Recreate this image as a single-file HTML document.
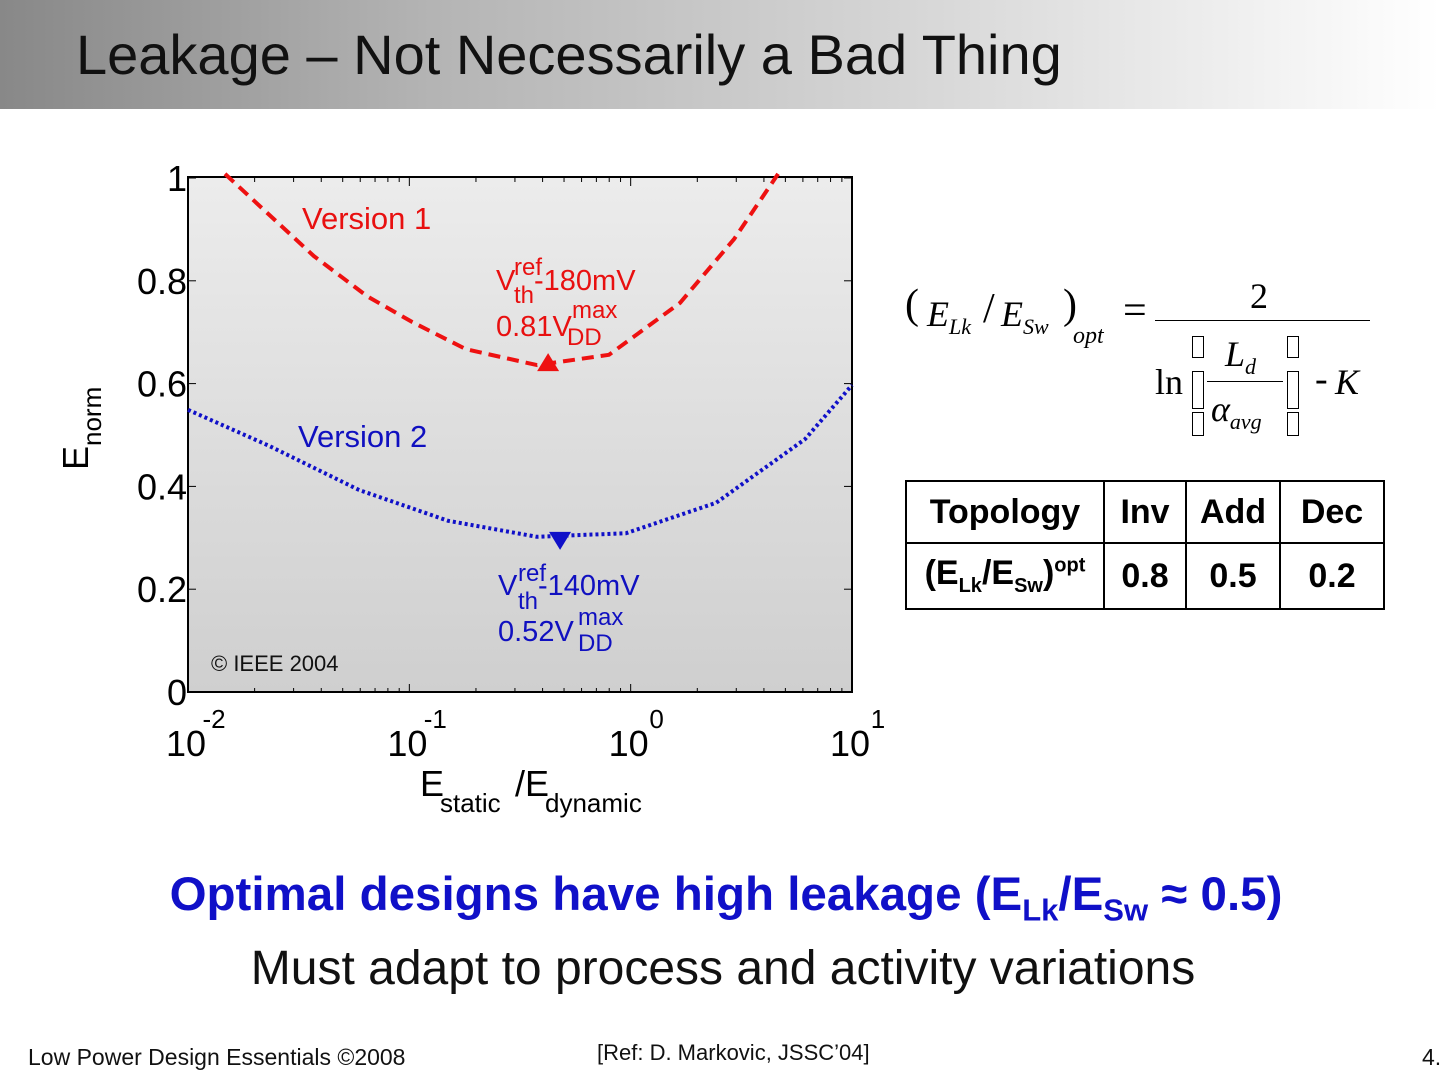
<!DOCTYPE html>
<html><head><meta charset="utf-8">
<style>
html,body{margin:0;padding:0;width:1440px;height:1080px;background:#fff;overflow:hidden;font-family:"Liberation Sans",sans-serif;}
#hdr{position:absolute;left:0;top:0;width:1440px;height:109px;background:linear-gradient(to right,#888 0%,#b4b4b4 30%,#d8d8d8 65%,#fff 100%);}
#title{position:absolute;left:76px;top:22px;font-size:56px;color:#111;white-space:nowrap;}
.abs{position:absolute;white-space:nowrap;}
table{border-collapse:collapse;font-family:"Liberation Sans Narrow","Liberation Sans",sans-serif;font-weight:bold;font-size:34px;}
td{border:2px solid #000;text-align:center;padding:0 10px;}
.box{position:absolute;width:10px;border:1.5px solid #000;}
</style></head><body>
<div id="hdr"></div>
<div id="title">Leakage – Not Necessarily a Bad Thing</div>

<svg id="chart" width="1440" height="1080" style="position:absolute;left:0;top:0" font-family="Liberation Sans, sans-serif">
<defs><linearGradient id="bg" x1="0" y1="0" x2="0" y2="1"><stop offset="0" stop-color="#ececec"/><stop offset="1" stop-color="#cfcfcf"/></linearGradient></defs>
<rect x="188" y="177" width="664" height="515" fill="url(#bg)" stroke="#000" stroke-width="2"/>
<g id="axes"></g>
<g id="series"></g>
<text x="302" y="229" font-size="31" fill="#e81010">Version 1</text>
<text x="298" y="447" font-size="31" fill="#1010c0">Version 2</text>
<g fill="#e81010" font-size="29">
<text x="496" y="290">V</text><text x="514" y="275" font-size="24">ref</text><text x="514" y="303" font-size="24">th</text><text x="534" y="290">-180mV</text>
<text x="496" y="336">0.81V</text><text x="572" y="318" font-size="24">max</text><text x="567" y="345" font-size="24">DD</text>
</g>
<g fill="#1010c0" font-size="29">
<text x="498" y="595">V</text><text x="518" y="581" font-size="24">ref</text><text x="518" y="609" font-size="24">th</text><text x="538" y="595">-140mV</text>
<text x="498" y="641">0.52V</text><text x="578" y="625" font-size="24">max</text><text x="578" y="651" font-size="24">DD</text>
</g>
<text x="211" y="671" font-size="22" fill="#111">© IEEE 2004</text>
<g transform="translate(88,470) rotate(-90)" font-size="36"><text x="0" y="0">E</text><text x="24" y="13" font-size="26">norm</text></g>
<g font-size="36"><text x="420" y="796">E</text><text x="440" y="812" font-size="26">static</text><text x="515" y="796">/E</text><text x="545" y="812" font-size="26">dynamic</text></g>
</svg>

<div class="abs" style="left:905px;top:275px;width:470px;height:170px;font-family:'Liberation Serif',serif;">
<span class="abs" style="left:0;top:6px;font-size:42px">(</span>
<span class="abs" style="left:22px;top:18px;font-size:36px;font-style:italic">E<sub style="font-size:22px">Lk</sub></span>
<span class="abs" style="left:78px;top:10px;font-size:42px">/</span>
<span class="abs" style="left:96px;top:18px;font-size:36px;font-style:italic">E<sub style="font-size:22px">Sw</sub></span>
<span class="abs" style="left:158px;top:6px;font-size:42px">)</span>
<span class="abs" style="left:168px;top:48px;font-size:24px;font-style:italic">opt</span>
<span class="abs" style="left:218px;top:12px;font-size:42px">=</span>
<span class="abs" style="left:345px;top:0;font-size:36px">2</span>
<div class="abs" style="left:250px;top:45px;width:215px;height:1px;background:#000"></div>
<span class="abs" style="left:250px;top:86px;font-size:36px">ln</span>
<span class="abs" style="left:320px;top:58px;font-size:36px;font-style:italic">L<sub style="font-size:22px">d</sub></span>
<div class="abs" style="left:302px;top:106px;width:76px;height:1px;background:#000"></div>
<span class="abs" style="left:306px;top:113px;font-size:36px;font-style:italic">α<sub style="font-size:22px">avg</sub></span>
<span class="abs" style="left:410px;top:82px;font-size:38px">-</span>
<span class="abs" style="left:430px;top:86px;font-size:36px;font-style:italic">K</span>
<div class="box" style="left:287px;top:61px;height:20px"></div>
<div class="box" style="left:287px;top:96px;height:36px"></div>
<div class="box" style="left:287px;top:137px;height:22px"></div>
<div class="box" style="left:382px;top:61px;height:20px"></div>
<div class="box" style="left:382px;top:96px;height:36px"></div>
<div class="box" style="left:382px;top:137px;height:22px"></div>
</div>

<table class="abs" style="left:905px;top:480px;">
<tr style="height:62px"><td style="width:176px">Topology</td><td style="width:60px">Inv</td><td style="width:72px">Add</td><td style="width:82px">Dec</td></tr>
<tr style="height:66px"><td>(E<sub style="font-size:20px">Lk</sub>/E<sub style="font-size:20px">Sw</sub>)<sup style="font-size:20px">opt</sup></td><td>0.8</td><td>0.5</td><td>0.2</td></tr>
</table>

<div class="abs" style="left:0;width:1452px;text-align:center;top:867px;font-size:47.5px;font-weight:bold;color:#1010c8">Optimal designs have high leakage (E<sub style="font-size:31px">Lk</sub>/E<sub style="font-size:31px">Sw</sub> ≈ 0.5)</div>
<div class="abs" style="left:0;width:1446px;text-align:center;top:941px;font-size:48px;color:#111">Must adapt to process and activity variations</div>
<div class="abs" style="left:597px;top:1040px;font-size:22px;color:#111">[Ref: D. Markovic, JSSC’04]</div>
<div class="abs" style="left:28px;top:1044px;font-size:23px;font-family:'Liberation Sans Narrow','Liberation Sans',sans-serif;color:#111">Low Power Design Essentials ©2008</div>
<div class="abs" style="left:1422px;top:1044px;font-size:23px;font-family:'Liberation Sans Narrow','Liberation Sans',sans-serif;color:#111">4.</div>

<script>
const yTicks=[0,0.2,0.4,0.6,0.8,1];
const yTickLabels=["0","0.2","0.4","0.6","0.8","1"];
const xDecades=[-2,-1,0,1];
const v1LogX=[-1.833,-1.431,-1.191,-0.988,-0.744,-0.423,-0.098,0.223,0.467,0.666];
const v1Y=[1.008,0.848,0.770,0.720,0.667,0.636,0.656,0.757,0.881,1.008];
const v2LogX=[-2,-1.634,-1.227,-0.825,-0.423,-0.021,0.386,0.788,1.0];
const v2Y=[0.549,0.479,0.393,0.333,0.302,0.309,0.368,0.492,0.597];
const v1Opt=[-0.373,0.636];
const v2Opt=[-0.319,0.296];
const X0=188,X1=852,Y0=692,Y1=178;
function sx(l){return X0+(l+2)/3*(X1-X0);}
function sy(v){return Y0-v*(Y0-Y1);}
const NS="http://www.w3.org/2000/svg";
const ax=document.getElementById('axes'),se=document.getElementById('series');
function mk(tag,attrs,parent){const e=document.createElementNS(NS,tag);for(const k in attrs)e.setAttribute(k,attrs[k]);parent.appendChild(e);return e;}
yTicks.forEach((t,i)=>{
  const y=sy(t);
  const l=mk('line',{x1:X0,x2:X0+8,y1:y,y2:y,stroke:'#000','stroke-width':1},ax);
  
  
  mk('line',{x1:X1-8,x2:X1,y1:y,y2:y,stroke:'#000','stroke-width':1},ax);
  const tx=mk('text',{x:X0-1,y:y+13,'font-size':36,'text-anchor':'end'},ax);
  tx.textContent=yTickLabels[i];
  
  
});
xDecades.forEach((d,i)=>{
  const x=sx(d);
  mk('line',{x1:x,x2:x,y1:Y0,y2:Y0-8,stroke:'#000','stroke-width':1},ax);
  mk('line',{x1:x,x2:x,y1:Y1,y2:Y1+8,stroke:'#000','stroke-width':1},ax);
  if(i<xDecades.length-1){for(let m=2;m<10;m++){const xm=sx(d+Math.log10(m));
    mk('line',{x1:xm,x2:xm,y1:Y0,y2:Y0-4,stroke:'#000','stroke-width':1},ax);
    mk('line',{x1:xm,x2:xm,y1:Y1,y2:Y1+4,stroke:'#000','stroke-width':1},ax);}}
  const g=mk('g',{'font-size':36},ax);
  
  
  const t1=mk('text',{x:x-22,y:756},g);t1.textContent='10';
  const t2=mk('text',{x:x+26,y:728,'font-size':26,'text-anchor':'middle'},g);t2.textContent=String(d);
});
function pts(xs,ys){return xs.map((l,i)=>sx(l).toFixed(1)+','+sy(ys[i]).toFixed(1)).join(' ');}
const c1=mk('polyline',{points:pts(v1LogX,v1Y),fill:'none',stroke:'#ee1111','stroke-width':4,'stroke-dasharray':'12 7','stroke-linejoin':'round'},se);


const c2=mk('polyline',{points:pts(v2LogX,v2Y),fill:'none',stroke:'#1010c8','stroke-width':4,'stroke-dasharray':'3 3','stroke-linejoin':'round'},se);


let mx=sx(v1Opt[0]),my=sy(v1Opt[1]);
const m1=mk('polygon',{points:`${mx-11},${my+6} ${mx+11},${my+6} ${mx},${my-12}`,fill:'#ee1111'},se);


mx=sx(v2Opt[0]);my=sy(v2Opt[1]);
const m2=mk('polygon',{points:`${mx-11},${my-8} ${mx+11},${my-8} ${mx},${my+10}`,fill:'#1010c8'},se);


</script>
</body></html>
